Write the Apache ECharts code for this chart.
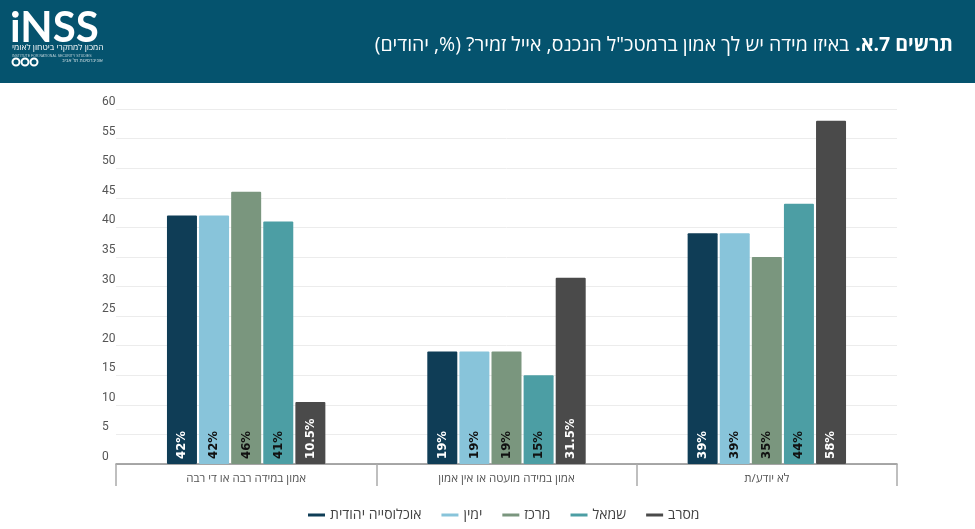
<!DOCTYPE html>
<html>
  <head>
    <meta charset="utf-8" />
    <title>INSS</title>
    <script src="https://cdn.jsdelivr.net/npm/echarts@6.0.0/dist/echarts.min.js"></script>
    <style>
      html, body { margin: 0; padding: 0; background: #fff; }
      #chart { width: 975px; height: 529px; }
      #chart canvas { direction: rtl; }
    </style>
  </head>
  <body>
    <div id="chart"></div>
    <script type="text/javascript">
      const categories = ['אמון במידה רבה או די רבה', 'אמון במידה מועטה או אין אמון', 'לא יודע/ת'];
      const seriesNames = ['אוכלוסייה יהודית', 'ימין', 'מרכז', 'שמאל', 'מסרב'];
      const jewishPop = [42, 19, 39];
      const right = [42, 19, 39];
      const center = [46, 19, 35];
      const left = [41, 15, 44];
      const refused = [10.5, 31.5, 58];
      const yTicks = [0, 5, 10, 15, 20, 25, 30, 35, 40, 45, 50, 55, 60];

      const colors = ['#0f3d56', '#88c4da', '#7a967e', '#4c9ea4', '#4a4a4a'];
      const labelColors = ['#fff', '#111', '#111', '#111', '#fff'];
      const values = [jewishPop, right, center, left, refused];
      const hebFont = '"Open Sans", "Liberation Sans", sans-serif';

      const chart = echarts.init(document.getElementById('chart'), null, { renderer: 'canvas' });

      const series = seriesNames.map((name, i) => ({
        name: name,
        type: 'bar',
        data: values[i],
        barWidth: 30,
        barGap: '7%',
        itemStyle: { color: colors[i], borderRadius: 1 },
        label: {
          show: true,
          position: 'insideBottom',
          rotate: 90,
          align: 'left',
          verticalAlign: 'middle',
          distance: 5,
          color: labelColors[i],
          fontFamily: '"DejaVu Sans Condensed", "Liberation Sans Narrow", sans-serif',
          fontWeight: 'bold',
          fontSize: 13,
          formatter: p => p.value + '%'
        }
      }));

      chart.setOption({
        animation: false,
        color: colors,
        title: {
          text: '{n|באיזו מידה יש לך אמון ברמטכ"ל הנכנס, אייל זמיר? (%, יהודים)}{b|תרשים 7.א.}',
          right: 17,
          top: 30,
          textStyle: {
            fontWeight: 'normal',
            rich: {
              n: { color: '#fff', fontSize: 19.5, fontWeight: 500, fontFamily: hebFont },
              b: { color: '#fff', fontSize: 19.5, fontWeight: 'bold', fontFamily: hebFont, padding: [0, 0, 0, 6] }
            }
          }
        },
        graphic: [
          { type: 'rect', z: -1, shape: { x: 0, y: 0, width: 975, height: 83 }, style: { fill: '#05536e' } },
          { type: 'text', left: 10, top: 7, style: { text: 'iNSS', fill: '#fff', font: 'bold 42px Lato, sans-serif' } },
          { type: 'text', left: 12, top: 43, style: { text: 'המכון למחקרי ביטחון לאומי', fill: '#fff', font: '8.5px ' + hebFont } },
          { type: 'text', left: 12, top: 54, style: { text: 'INSTITUTE FOR NATIONAL SECURITY STUDIES', fill: 'rgba(255,255,255,0.7)', font: '3.5px sans-serif' } },
          { type: 'circle', shape: { cx: 16, cy: 62, r: 3.5 }, style: { fill: 'none', stroke: '#fff', lineWidth: 2 } },
          { type: 'circle', shape: { cx: 25, cy: 62, r: 3.5 }, style: { fill: 'none', stroke: '#fff', lineWidth: 2 } },
          { type: 'circle', shape: { cx: 34, cy: 62, r: 3.5 }, style: { fill: 'none', stroke: '#fff', lineWidth: 2 } },
          { type: 'text', left: 62, top: 58, style: { text: 'אוניברסיטת תל אביב', fill: 'rgba(255,255,255,0.8)', font: '5px ' + hebFont } }
        ],
        legend: {
          data: seriesNames,
          left: 303,
          top: 503,
          icon: 'rect',
          itemWidth: 17,
          itemHeight: 3,
          itemGap: 20,
          textStyle: { color: '#444', fontSize: 14, fontFamily: hebFont }
        },
        grid: { left: 116, right: 78, top: 109, bottom: 65, containLabel: false },
        xAxis: {
          type: 'category',
          data: categories,
          axisLine: { lineStyle: { color: '#8c8c8c', width: 1.5 } },
          axisTick: { show: true, length: 22, lineStyle: { color: '#aaa', width: 1.5 } },
          axisLabel: { color: '#555', fontSize: 11.5, fontFamily: hebFont, margin: 9 }
        },
        yAxis: {
          type: 'value',
          min: yTicks[0],
          max: yTicks[yTicks.length - 1],
          interval: 5,
          axisLine: { show: false },
          axisTick: { show: false },
          splitLine: { lineStyle: { color: '#ececec' } },
          axisLabel: {
            color: '#555',
            fontSize: 12,
            fontFamily: 'Roboto, sans-serif',
            margin: 14,
            align: 'left',
            verticalAlign: 'bottom',
            padding: [0, 0, 1, 0]
          }
        },
        series: series
      });
    </script>
  </body>
</html>
